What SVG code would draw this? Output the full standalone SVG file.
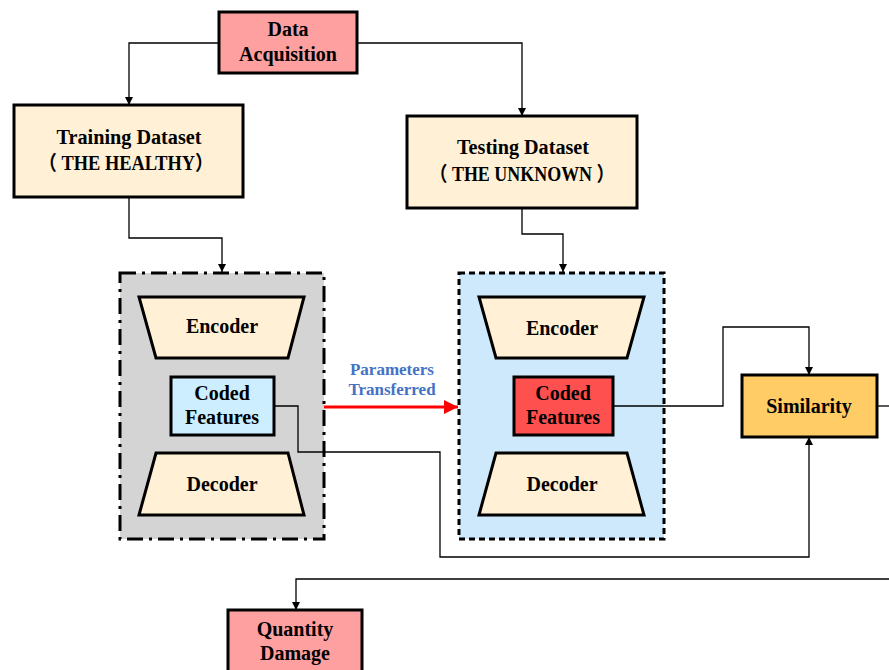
<svg xmlns="http://www.w3.org/2000/svg" width="889" height="670" viewBox="0 0 889 670">
<defs>
<marker id="ah" viewBox="0 0 10 10" refX="10" refY="5" markerWidth="8" markerHeight="12" markerUnits="userSpaceOnUse" orient="auto"><path d="M0,0 L10,5 L0,10 z" fill="#000"/></marker>
<marker id="ahr" viewBox="0 0 10 10" refX="10" refY="5" markerWidth="20" markerHeight="14" markerUnits="userSpaceOnUse" orient="auto"><path d="M0,0 L10,5 L0,10 z" fill="#ff0000"/></marker>
<style>
.t{font-family:"Liberation Serif","Times New Roman",serif;font-weight:bold;font-size:20px;fill:#000;text-anchor:middle}
.cjk{font-family:"Liberation Serif","Noto Sans CJK SC",serif}
.n{stroke:#000;stroke-width:3}
.c{fill:none;stroke:#000;stroke-width:1.3}
</style>
</defs>
<rect width="889" height="670" fill="#fff"/>
<g id="container-train">
<rect x="120" y="273" width="204" height="266" fill="#d4d4d4" stroke="#000" stroke-width="3" stroke-dasharray="16,6,3,6"/>
</g>
<g id="container-test">
<rect x="459" y="273" width="205" height="266" fill="#cde9fb" stroke="#000" stroke-width="3" stroke-dasharray="6,4"/>
</g>
<g id="connectors">
<path class="c" d="M218,43 H129 V105" marker-end="url(#ah)"/>
<path class="c" d="M357,43 H522 V116" marker-end="url(#ah)"/>
<path class="c" d="M129,197 V238 H222 V272" marker-end="url(#ah)"/>
<path class="c" d="M522,208 V234 H563 V272" marker-end="url(#ah)"/>
<path class="c" d="M274,406 H298 V452 H440 V557 H809 V437" marker-end="url(#ah)"/>
<path class="c" d="M613,406 H723 V327 H809 V375" marker-end="url(#ah)"/>
<path class="c" d="M877,406 H889"/>
<path class="c" d="M889,579 H296 V610" marker-end="url(#ah)"/>
<path d="M324,407 H458" fill="none" stroke="#ff0000" stroke-width="3" marker-end="url(#ahr)"/>
<text x="392" y="375" class="t" style="font-size:17px;fill:#4472c4">Parameters</text>
<text x="392" y="395" class="t" style="font-size:17px;fill:#4472c4">Transferred</text>
</g>
<g id="data-acquisition">
<rect class="n" x="219" y="12" width="138" height="61" fill="#ffa0a0"/>
<text class="t" x="288" y="36">Data</text>
<text class="t" x="288" y="61">Acquisition</text>
</g>
<g id="training-dataset">
<rect class="n" x="14" y="105" width="229" height="92" fill="#fff0d6"/>
<text class="t" x="129" y="144" textLength="145" lengthAdjust="spacingAndGlyphs">Training Dataset</text>
<text class="t cjk" x="126" y="170" textLength="175" lengthAdjust="spacingAndGlyphs">（ THE HEALTHY）</text>
</g>
<g id="testing-dataset">
<rect class="n" x="407" y="116" width="230" height="92" fill="#fff0d6"/>
<text class="t" x="523" y="154" textLength="132" lengthAdjust="spacingAndGlyphs">Testing Dataset</text>
<text class="t cjk" x="522" y="181" textLength="185" lengthAdjust="spacingAndGlyphs">（ THE UNKNOWN ）</text>
</g>
<g id="encoder-train">
<path class="n" d="M139,297 H304 L288,358 H156 Z" fill="#fff0d6"/>
<text class="t" x="222" y="333">Encoder</text>
</g>
<g id="coded-train">
<rect class="n" x="171" y="377" width="103" height="58" fill="#cceeff"/>
<text class="t" x="222" y="400">Coded</text>
<text class="t" x="222" y="424">Features</text>
</g>
<g id="decoder-train">
<path class="n" d="M156,453 H288 L304,515 H139 Z" fill="#fff0d6"/>
<text class="t" x="222" y="491">Decoder</text>
</g>
<g id="encoder-test">
<path class="n" d="M479,297 H644 L627,358 H496 Z" fill="#fff0d6"/>
<text class="t" x="562" y="335">Encoder</text>
</g>
<g id="coded-test">
<rect class="n" x="514" y="377" width="99" height="58" fill="#ff5050"/>
<text class="t" x="563" y="400">Coded</text>
<text class="t" x="563" y="424">Features</text>
</g>
<g id="decoder-test">
<path class="n" d="M496,453 H627 L644,515 H479 Z" fill="#fff0d6"/>
<text class="t" x="562" y="491">Decoder</text>
</g>
<g id="similarity">
<rect class="n" x="742" y="375" width="135" height="62" fill="#ffcc66"/>
<text class="t" x="809" y="413">Similarity</text>
</g>
<g id="quantity-damage">
<rect class="n" x="228" y="610" width="134" height="64" fill="#ffa0a0"/>
<text class="t" x="295" y="636">Quantity</text>
<text class="t" x="295" y="660">Damage</text>
</g>
</svg>
